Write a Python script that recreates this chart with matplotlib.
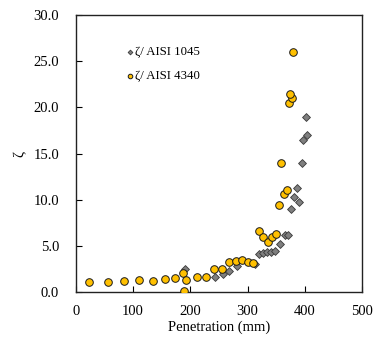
import numpy as np
import matplotlib.pyplot as plt

plt.rcParams['font.family'] = ['Liberation Serif', 'DejaVu Serif']

# AISI 1045 (gray diamonds)
x_1045 = [190.6, 243, 256.5, 268, 281, 313, 320.5, 326.4, 333.4, 340.4, 348,
          356.6, 365.4, 370.6, 376.4, 381, 386.9, 390.4, 394.6, 397.4, 403.3, 401.6]
y_1045 = [2.55, 1.66, 1.92, 2.31, 2.82, 3.03, 4.08, 4.19, 4.30, 4.36, 4.44,
          5.17, 6.17, 6.17, 8.99, 10.32, 11.23, 9.75, 13.94, 16.46, 17.0, 18.92]

# AISI 4340 (gold circles)
x_4340 = [22.7, 56.5, 83.9, 110, 135, 156, 174, 186.5, 192, 189, 212, 227,
          242, 255, 267, 279, 291, 301, 309, 319, 327, 335, 343, 350,
          355, 358.4, 364.2, 369.4, 373, 377, 374, 378.8]
y_4340 = [1.05, 1.05, 1.19, 1.3, 1.19, 1.41, 1.52, 2.03, 1.3, 0.14, 1.66, 1.66,
          2.46, 2.46, 3.25, 3.39, 3.47, 3.28, 3.17, 6.6, 5.92, 5.38, 5.92, 6.25,
          9.42, 13.94, 10.58, 11.05, 20.44, 20.98, 21.5, 26.0]

fig = plt.figure(figsize=(3.89, 3.42), dpi=100)
ax = fig.add_axes([0.195, 0.146, 0.736, 0.81])

ax.scatter(x_1045, y_1045, marker='D', s=16, color='#7f7f7f',
           edgecolors='#3a3a3a', linewidths=0.6, label='ζ/ AISI 1045', zorder=3)
ax.scatter(x_4340, y_4340, marker='o', s=30, color='#ffc000',
           edgecolors='#1a1a1a', linewidths=0.7, label='ζ/ AISI 4340', zorder=4)

ax.set_xlim(0, 500)
ax.set_ylim(0, 30)
ax.set_xticks(np.arange(0, 501, 100))
ax.set_yticks(np.arange(0, 30.1, 5))
ax.yaxis.set_major_formatter(plt.FormatStrFormatter('%.1f'))
ax.tick_params(direction='in', length=4, width=0.8, labelsize=10.5)
ax.tick_params(axis='x', pad=9)
ax.tick_params(axis='y', pad=12)
for s in ax.spines.values():
    s.set_linewidth(1.0)
    s.set_color('#222222')

ax.set_xlabel('Penetration (mm)', fontsize=10.5, labelpad=2)
ax.set_ylabel('ζ', fontsize=10.5, labelpad=5)

ax.legend(loc='upper left', bbox_to_anchor=(0.157, 0.905), frameon=False,
          fontsize=9.2, handlelength=0.6, handletextpad=0.1, markerscale=0.6,
          labelspacing=0.9, borderaxespad=0.0)

fig.savefig('out.png', dpi=100)
